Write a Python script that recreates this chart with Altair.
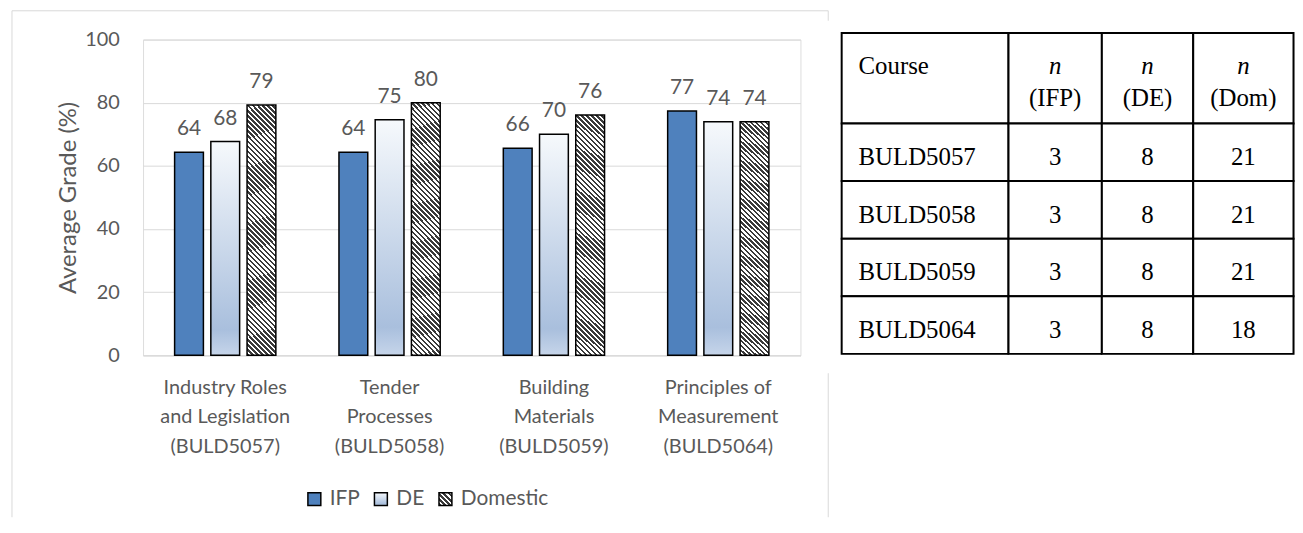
import json
import altair as alt
import pandas as pd

# ---------------- data ----------------
categories = [
    "Industry Roles\nand Legislation\n(BULD5057)",
    "Tender\nProcesses\n(BULD5058)",
    "Building\nMaterials\n(BULD5059)",
    "Principles of\nMeasurement\n(BULD5064)",
]
series = ["IFP", "DE", "Domestic"]
ifp_values = [64.3, 64.3, 65.6, 77.4]
de_values = [67.7, 74.6, 70.0, 74.0]
domestic_values = [79.3, 80.0, 76.1, 74.0]
y_ticks = [0, 20, 40, 60, 80, 100]

courses = ["BULD5057", "BULD5058", "BULD5059", "BULD5064"]
n_ifp = [3, 3, 3, 3]
n_de = [8, 8, 8, 8]
n_dom = [21, 21, 21, 18]
header_top = ["Course", "n", "n", "n"]
header_bottom = ["", "(IFP)", "(DE)", "(Dom)"]
table_keys = ["course", "IFP", "DE", "Dom"]

rows = []
for ser, vals in zip(series, [ifp_values, de_values, domestic_values]):
    for cat, v in zip(categories, vals):
        rows.append({"category": cat, "series": ser, "value": v})
bars_df = pd.DataFrame(rows)

tab_df = pd.DataFrame({"course": courses, "IFP": n_ifp, "DE": n_de, "Dom": n_dom})
hdr_df = pd.DataFrame({"top": header_top, "bottom": header_bottom, "col": table_keys})
frame_df = pd.DataFrame({"k": [0]})

# ---------------- styles ----------------
TXT = "#595959"
GRID = "#D9D9D9"
BLUE = "#4F81BD"
FONT = "Lato"
SERIF = "Liberation Serif"

de_grad = {
    "gradient": "linear", "x1": 0, "y1": 0, "x2": 0, "y2": 1,
    "stops": [
        {"offset": 0, "color": "#F6F9FC"},
        {"offset": 0.88, "color": "#A9BFDD"},
        {"offset": 1, "color": "#C6D5EA"},
    ],
}


def hatch(w, h, period=5.0, dark="#3a3a3a", light="#ffffff", frac=0.5):
    g = (w + h) * w * h / (w * w + h * h)
    n = max(1, round((w + h) / period))
    stops = []
    for i in range(n):
        a = round(i / n, 5)
        b = round((i + frac) / n, 5)
        c = round((i + 1) / n, 5)
        stops += [
            {"offset": a, "color": dark},
            {"offset": b, "color": dark},
            {"offset": b, "color": light},
            {"offset": c, "color": light},
        ]
    return {"gradient": "linear", "x1": 0, "y1": 1,
            "x2": round(g / h, 5), "y2": round(1 - g / w, 5), "stops": stops}


hatch_bar = hatch(29, 246)
hatch_sq = hatch(13, 13)

# ---------------- bar chart ----------------
base = alt.Chart(bars_df)

x_enc = alt.X(
    "category:N", sort=categories,
    scale=alt.Scale(paddingInner=0.384, paddingOuter=0.192),
    axis=alt.Axis(title=None, labelExpr="split(datum.label, '\\n')", labelFont=FONT,
                  labelFontSize=20, labelColor=TXT, labelLineHeight=30, labelPadding=22,
                  labelAngle=0, ticks=False, tickSize=0, domainColor=GRID, domainWidth=1,
                  labelOverlap=False),
)
xoff_enc = alt.XOffset("series:N", sort=series,
                       scale=alt.Scale(domain=series, paddingInner=0.205, paddingOuter=0))
y_enc = alt.Y(
    "value:Q", scale=alt.Scale(domain=[0, 100]),
    axis=alt.Axis(values=y_ticks, title="Average Grade (%)", titleFont=FONT, titleFontSize=24,
                  titleFontWeight="normal", titleColor=TXT, titlePadding=4, labelFont=FONT,
                  labelFontSize=20, labelColor=TXT, labelPadding=24, ticks=False, tickSize=0,
                  domain=False, gridColor=GRID, gridWidth=1),
)

fill_enc = alt.when(alt.datum.series == "Domestic").then(alt.value(hatch_bar)).otherwise(
    alt.Fill(
        "series:N",
        scale=alt.Scale(domain=series,
                        range=[BLUE, alt.ExprRef(json.dumps(de_grad)), alt.ExprRef(json.dumps(hatch_sq))]),
        legend=alt.Legend(title=None, orient="none", legendX=162, legendY=452,
                          direction="horizontal", symbolType="square", symbolSize=169,
                          symbolStrokeColor="black", symbolStrokeWidth=1.5,
                          labelFont=FONT, labelFontSize=21, labelColor=TXT,
                          labelOffset=5, columnPadding=10, padding=0),
    )
)

bars = base.mark_bar(stroke="black", strokeWidth=1.5).encode(
    x=x_enc, xOffset=xoff_enc, y=y_enc, fill=fill_enc
)
labels = base.mark_text(baseline="alphabetic", dy=-17, font=FONT, fontSize=21, color=TXT).encode(
    x=x_enc, xOffset=xoff_enc, y=y_enc, text=alt.Text("value:Q", format=".0f")
)

FRAME_BOTTOM = 481
fr = alt.Chart(frame_df)
frame_left = fr.mark_rule(color=GRID, strokeWidth=1).encode(
    x=alt.value(-132), y=alt.value(-29), y2=alt.value(FRAME_BOTTOM))
frame_top = fr.mark_rule(color=GRID, strokeWidth=1).encode(
    x=alt.value(-132), x2=alt.value(690), y=alt.value(-29))
frame_r1 = fr.mark_rule(color=GRID, strokeWidth=1).encode(
    x=alt.value(690), y=alt.value(-29), y2=alt.value(-19))
frame_r2 = fr.mark_rule(color=GRID, strokeWidth=1).encode(
    x=alt.value(690), y=alt.value(336), y2=alt.value(FRAME_BOTTOM))

left_panel = alt.layer(frame_left, frame_top, frame_r1, frame_r2, bars, labels).properties(
    width=662, height=318)

# ---------------- table ----------------
col_widths = [168, 94, 92, 101]
TOP = -6.5          # table top relative to the bar plot's top edge
HDR_H = 91
BODY_H = 232
FS = 25

columns = []
for i, key in enumerate(table_keys):
    hb = alt.Chart(hdr_df).transform_filter(alt.datum.col == key)
    hcell = hb.mark_rect(fill="white", stroke="black", strokeWidth=2).encode(
        y=alt.value(TOP), y2=alt.value(TOP + HDR_H))
    if key == "course":
        h1 = hb.mark_text(align="left", baseline="alphabetic", font=SERIF,
                          fontSize=FS, color="black").encode(
            x=alt.value(17), y=alt.value(TOP + 41), text="top:N")
        hlayers = [hcell, h1]
    else:
        h1 = hb.mark_text(align="center", baseline="alphabetic", font=SERIF,
                          fontSize=FS, fontStyle="italic", color="black").encode(
            y=alt.value(TOP + 41), text="top:N")
        h2 = hb.mark_text(align="center", baseline="alphabetic", font=SERIF,
                          fontSize=FS, color="black").encode(
            y=alt.value(TOP + 73.5), text="bottom:N")
        hlayers = [hcell, h1, h2]

    bb = alt.Chart(tab_df)
    y_rows = alt.Y("course:N", sort=courses,
                   scale=alt.Scale(paddingInner=0, paddingOuter=0,
                                   range=[TOP + HDR_H, TOP + HDR_H + BODY_H]),
                   axis=None)
    brect = bb.mark_rect(fill="white", stroke="black", strokeWidth=2).encode(y=y_rows)
    if key == "course":
        btxt = bb.mark_text(align="left", baseline="alphabetic", dy=13, font=SERIF,
                            fontSize=FS, color="black").encode(
            x=alt.value(17), y=y_rows, text="course:N")
    else:
        btxt = bb.mark_text(align="center", baseline="alphabetic", dy=13, font=SERIF,
                            fontSize=FS, color="black").encode(y=y_rows, text=f"{key}:Q")
    columns.append(alt.layer(*hlayers, brect, btxt).properties(
        width=col_widths[i], height=TOP + HDR_H + BODY_H))

table = alt.hconcat(*columns, spacing=0, bounds="flush")

chart = alt.hconcat(left_panel, table, spacing=10.5).properties(
    padding={"left": 3, "top": 0, "right": 0, "bottom": 0}
).configure_view(stroke="transparent").configure(background="white")

chart.save("out.html", embed_options={"renderer": "svg", "actions": False})
